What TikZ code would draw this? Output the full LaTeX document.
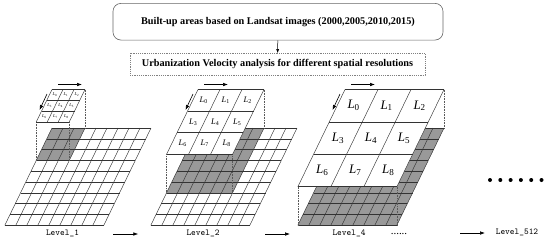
\documentclass[tikz,border=0pt]{standalone}
\usepackage{fontspec}
\setmainfont{Liberation Serif}
\usetikzlibrary{arrows.meta}
\definecolor{shadec}{gray}{0.6}
\tikzset{
  gridline/.style={draw=black!80, line width=0.45bp},
  facel/.style={draw=black!80, line width=0.45bp},
  vedge/.style={draw=black!65, dash pattern=on 0.8bp off 0.8bp, line width=0.45bp},
  arr/.style={-{Latex[length=5bp,width=3.6bp]}, line width=0.6bp, draw=black},
  lvl/.style={font=\ttfamily\fontsize{9}{9}\selectfont, inner sep=0pt},
  lab/.style={inner sep=0pt},
  topbox/.style={draw=black!60, rounded corners=8bp, line width=0.6bp, minimum width=330bp, minimum height=36.7bp, inner sep=0pt, font=\bfseries\fontsize{10.3}{12}\selectfont},
  dbox/.style={draw=black!50, dash pattern=on 1.2bp off 1bp, line width=0.5bp, minimum width=295bp, minimum height=21.7bp, inner sep=0pt, font=\bfseries\fontsize{10.3}{12}\selectfont}
}
\newcommand{\drawlevel}[4]{%
  \pgfmathsetmacro{\kw}{#3*11}%
  \pgfmathsetmacro{\kh}{#3*10.8}%
  \pgfmathsetmacro{\cw}{#3*11/3}%
  \pgfmathsetmacro{\ch}{#3*10.8/3}%
  \begin{scope}[shift={(#2,128)},xslant=0.485]
    \fill[white] (0,0) rectangle (99,97.2);
    \fill[shadec] (0,0) rectangle (\kw,\kh);
    \foreach \i in {0,...,9}{
      \draw[gridline] ({\i*11},0) -- ({\i*11},97.2);
      \draw[gridline] (0,{\i*10.8}) -- (99,{\i*10.8});
    }
    \coordinate (#1bTR) at (\kw,0);
    \coordinate (#1bBL) at (0,\kh);
    \coordinate (#1bBR) at (\kw,\kh);
  \end{scope}
  \begin{scope}[shift={(#2,89.5)},xslant=0.485]
    \coordinate (#1tTR) at (\kw,0);
    \coordinate (#1tBL) at (0,\kh);
    \coordinate (#1tBR) at (\kw,\kh);
  \end{scope}
  \draw[vedge] (#1tTR) -- (#1bTR);
  \draw[vedge] (#1tBL) -- (#1bBL);
  \draw[vedge] (#1tBR) -- (#1bBR);
  \begin{scope}[shift={(#2,89.5)},xslant=0.485]
    \fill[white] (0,0) rectangle (\kw,\kh);
    \foreach \i in {0,...,3}{
      \draw[facel] ({\i*\cw},0) -- ({\i*\cw},\kh);
      \draw[facel] (0,{\i*\ch}) -- (\kw,{\i*\ch});
    }
    \foreach \r in {0,1,2}{\foreach \c in {0,1,2}{
      \pgfmathtruncatemacro{\n}{3*\r+\c}
      \node[lab,font=\fontsize{#4}{#4}\selectfont] (#1L\n) at ({(\c+0.5)*\cw},{(\r+0.5)*\ch}) {{\itshape L}\textsubscript{\n}};
    }}
  \end{scope}
  \coordinate (#1ha) at (#2+6,84.5);
  \coordinate (#1hb) at (#2+30,84.5);
  \draw[arr] (#1ha) -- (#1hb);
  \coordinate (#1sa) at (#2-5,94);
  \coordinate (#1sb) at (#2-12.5,110);
  \draw[arr] (#1sa) -- (#1sb);
}
\begin{document}
\begin{tikzpicture}[x=1bp,y=-1bp]
\useasboundingbox (0,0) rectangle (550,242);
\fill[white] (0,0) rectangle (550,242);

\node[topbox] (box1) at (278,21.7) {Built-up areas based on Landsat images (2000,2005,2010,2015)};
\node[dbox] (box2) at (277.5,64.2) {Urbanization Velocity analysis for different spatial resolutions};
\draw[arr,line width=0.5bp,-{Latex[length=4bp,width=3bp]}] (box1) -- (box2);

\drawlevel{a}{52}{3}{4.5}
\drawlevel{b}{198}{6}{8.5}
\drawlevel{c}{345}{9}{13}

\node[lvl] (lv1) at (62.5,233.5) {Level\_1};
\node[lvl] (lv2) at (203,233.5) {Level\_2};
\node[lvl] (lv4) at (349,233.5) {Level\_4};
\node[lvl] (lv512) at (517,232.5) {Level\_512};
\node[inner sep=0pt, font=\fontsize{11}{11}\selectfont] (ell) at (399,233.5) {......};

\coordinate (p1a) at (113.3,234);
\coordinate (p1b) at (138.3,234);
\draw[arr] (p1a) -- (p1b);
\coordinate (p2a) at (265,234);
\coordinate (p2b) at (290,234);
\draw[arr] (p2a) -- (p2b);
\coordinate (p3a) at (460,233);
\coordinate (p3b) at (485,233);
\draw[arr] (p3a) -- (p3b);

\foreach \k in {0,...,5}{
  \fill[black] ({490+\k*10.3},180) circle (2bp);
}
\end{tikzpicture}
\end{document}
